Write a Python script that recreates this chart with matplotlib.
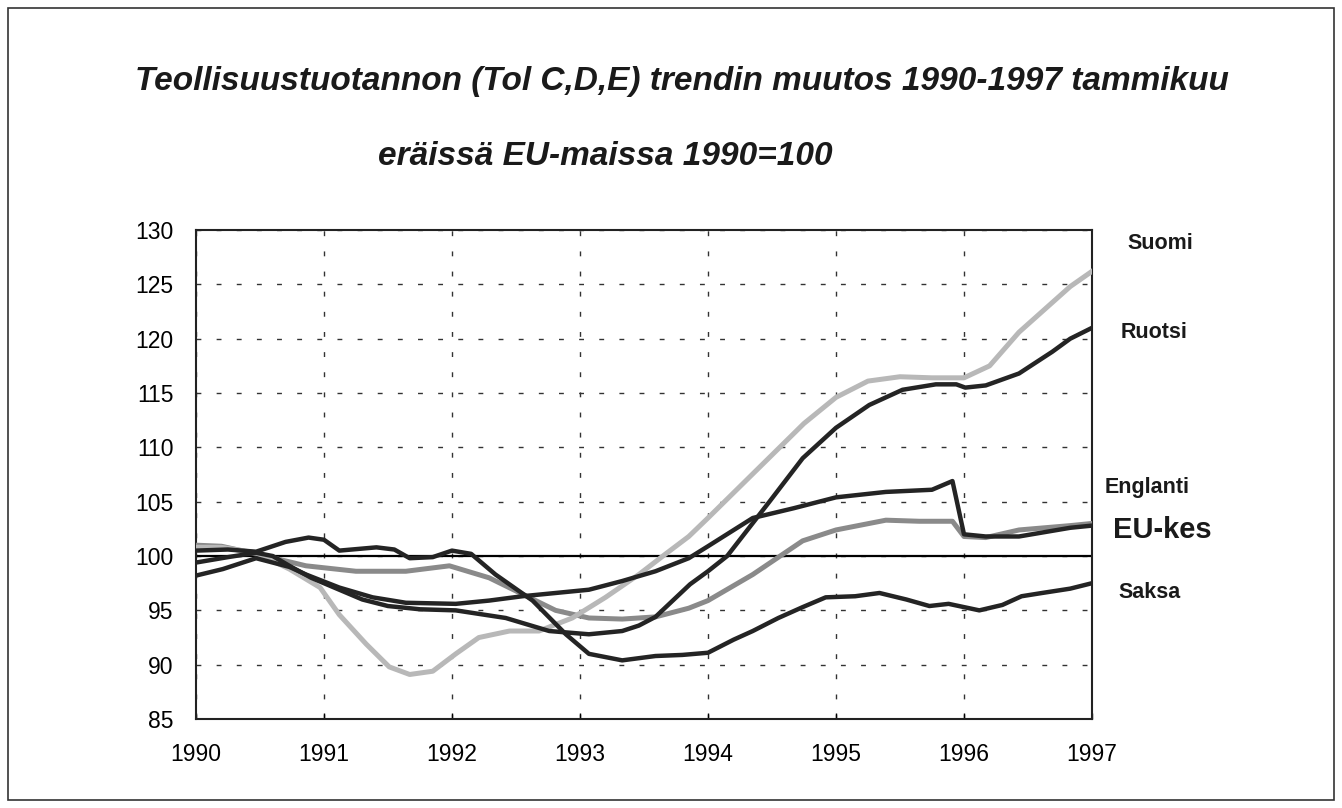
import matplotlib
matplotlib.use("Agg")
import matplotlib.pyplot as plt
from matplotlib import font_manager
from matplotlib.patches import Rectangle

# Series: (year, index 1990=100)
suomi_x = [1990.0, 1990.2, 1990.47, 1990.73, 1990.97, 1991.12, 1991.33, 1991.51, 1991.67,
           1991.85, 1992.03, 1992.21, 1992.45, 1992.68, 1992.94, 1993.2, 1993.46, 1993.67,
           1993.85, 1994.0, 1994.25, 1994.5, 1994.75, 1995.0, 1995.25, 1995.5, 1995.75,
           1996.0, 1996.2, 1996.43, 1996.83, 1997.0]
suomi_y = [100.8, 100.8, 100.3, 98.8, 97.1, 94.6, 91.9, 89.8, 89.1,
           89.4, 91.0, 92.5, 93.1, 93.1, 94.3, 96.2, 98.3, 100.2,
           101.8, 103.5, 106.4, 109.3, 112.2, 114.6, 116.1, 116.5, 116.4,
           116.4, 117.5, 120.6, 124.8, 126.2]

ruotsi_x = [1990.0, 1990.25, 1990.47, 1990.6, 1990.73, 1990.9, 1991.1, 1991.3, 1991.5,
            1991.75, 1992.03, 1992.42, 1992.76, 1993.07, 1993.33, 1993.46, 1993.59, 1993.86,
            1994.0, 1994.15, 1994.48, 1994.74, 1995.0, 1995.26, 1995.52, 1995.78, 1995.94,
            1996.01, 1996.17, 1996.43, 1996.69, 1996.83, 1997.0]
ruotsi_y = [99.4, 99.9, 100.3, 100.0, 99.1, 98.0, 97.0, 96.0, 95.4,
            95.1, 95.0, 94.3, 93.1, 92.8, 93.1, 93.6, 94.4, 97.4,
            98.6, 100.0, 105.0, 109.0, 111.8, 113.9, 115.3, 115.8, 115.8,
            115.5, 115.7, 116.8, 118.8, 120.0, 121.0]

englanti_x = [1990.0, 1990.21, 1990.47, 1990.73, 1990.86, 1991.12, 1991.38, 1991.64, 1992.03,
              1992.29, 1992.55, 1992.81, 1993.07, 1993.33, 1993.59, 1993.85, 1994.0, 1994.35,
              1994.67, 1995.0, 1995.39, 1995.75, 1995.91, 1996.0, 1996.17, 1996.43, 1996.83,
              1997.0]
englanti_y = [98.2, 98.8, 99.8, 99.0, 98.3, 97.1, 96.2, 95.7, 95.6,
              95.9, 96.3, 96.6, 96.9, 97.7, 98.6, 99.8, 100.9, 103.5,
              104.4, 105.4, 105.9, 106.1, 106.9, 102.0, 101.8, 101.8, 102.6,
              102.8]

eu_x = [1990.0, 1990.2, 1990.47, 1990.86, 1991.25, 1991.64, 1991.98, 1992.29, 1992.55,
        1992.81, 1993.07, 1993.33, 1993.59, 1993.85, 1994.0, 1994.35, 1994.74, 1995.0,
        1995.39, 1995.65, 1995.91, 1996.0, 1996.17, 1996.43, 1996.83, 1997.0]
eu_y = [101.0, 100.9, 100.2, 99.1, 98.6, 98.6, 99.1, 98.0, 96.5,
        95.0, 94.3, 94.2, 94.4, 95.2, 95.9, 98.3, 101.4, 102.4,
        103.3, 103.2, 103.2, 101.8, 101.7, 102.4, 102.8, 103.0]

saksa_x = [1990.0, 1990.25, 1990.47, 1990.7, 1990.88, 1991.0, 1991.12, 1991.41, 1991.55,
           1991.67, 1991.85, 1992.0, 1992.15, 1992.34, 1992.63, 1992.89, 1993.07, 1993.33,
           1993.59, 1993.8, 1994.0, 1994.2, 1994.35, 1994.55, 1994.74, 1994.92, 1995.15,
           1995.34, 1995.55, 1995.73, 1995.88, 1996.0, 1996.12, 1996.3, 1996.45, 1996.61,
           1996.83, 1997.0]
saksa_y = [100.5, 100.6, 100.4, 101.3, 101.7, 101.5, 100.5, 100.8, 100.6,
           99.8, 99.9, 100.5, 100.2, 98.3, 95.9, 92.8, 91.0, 90.4,
           90.8, 90.9, 91.1, 92.3, 93.1, 94.3, 95.3, 96.2, 96.3,
           96.6, 96.0, 95.4, 95.6, 95.3, 95.0, 95.5, 96.3, 96.6,
           97.0, 97.5]

labels = ["Suomi", "Ruotsi", "Englanti", "EU-kes", "Saksa"]
label_y = [128.8, 120.6, 106.3, 102.4, 96.6]

years = [1990, 1991, 1992, 1993, 1994, 1995, 1996, 1997]
yticks = [85, 90, 95, 100, 105, 110, 115, 120, 125, 130]

installed = {f.name for f in font_manager.fontManager.ttflist}
base = "Liberation Sans" if "Liberation Sans" in installed else "DejaVu Sans"

fig = plt.figure(figsize=(13.42, 8.08), dpi=100)
ax = fig.add_axes([0.146, 0.1101, 0.6677, 0.6052])

light = "#b8b8b8"
mid = "#8a8a8a"
dark = "#242424"

ax.axhline(100, color="black", lw=1.6, zorder=2)
ax.plot(eu_x, eu_y, color=mid, lw=3.6, zorder=3)
ax.plot(suomi_x, suomi_y, color=light, lw=3.6, zorder=3)
ax.plot(ruotsi_x, ruotsi_y, color=dark, lw=3.2, zorder=4)
ax.plot(englanti_x, englanti_y, color=dark, lw=3.2, zorder=4)
ax.plot(saksa_x, saksa_y, color=dark, lw=3.2, zorder=4)

ax.set_xlim(1990, 1997)
ax.set_ylim(85, 130)
ax.set_xticks(years)
ax.set_yticks(yticks)

ax.set_xticklabels([str(y) for y in years], family=base, size=16.5)
ax.set_yticklabels([str(v) for v in yticks], family=base, size=16.5)
ax.tick_params(axis="x", direction="in", length=4, pad=17, width=1)
ax.tick_params(axis="y", direction="in", length=0, pad=16)

ax.grid(True, color="#333333", lw=1.0, linestyle=(0, (3.5, 11)))
ax.set_axisbelow(True)
for sp in ax.spines.values():
    sp.set_linewidth(1.5)
    sp.set_color("#222222")

# series names to the right of the plot
xoffs = {"Suomi": 1.040, "Ruotsi": 1.032, "Englanti": 1.014, "EU-kes": 1.024, "Saksa": 1.029}
for name, yv in zip(labels, label_y):
    big = name == "EU-kes"
    ax.annotate(name, xy=(xoffs[name], yv), xycoords=("axes fraction", "data"),
                ha="left", va="center", fontsize=21 if big else 15.5,
                fontweight="bold", family=base, color="#1a1a1a")

fig.text(0.508, 0.899, "Teollisuustuotannon (Tol C,D,E) trendin muutos 1990-1997 tammikuu",
         ha="center", va="center", fontsize=24, fontweight="bold",
         fontstyle="italic", family=base, color="#1a1a1a")
fig.text(0.282, 0.806, "eräissä EU-maissa 1990=100",
         ha="left", va="center", fontsize=24, fontweight="bold",
         fontstyle="italic", family=base, color="#1a1a1a")

# frame around the whole chart
fig.patches.append(Rectangle((8 / 1342, 8 / 808), 1 - 16 / 1342, 1 - 16 / 808,
                             transform=fig.transFigure, fill=False, lw=1.2,
                             edgecolor="#333333"))

fig.savefig("out.png", dpi=100)
